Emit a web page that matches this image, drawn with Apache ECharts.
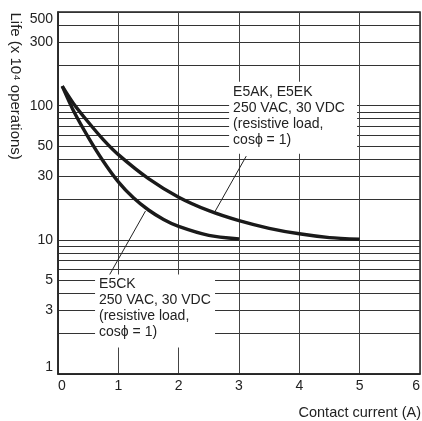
<!DOCTYPE html>
<html><head><meta charset="utf-8">
<script src="https://cdn.jsdelivr.net/npm/echarts@6/dist/echarts.min.js"></script>
<style>html,body{margin:0;padding:0;background:#fff}#c{width:422px;height:421px}</style>
</head><body><div id="c"></div>
<script>
// Data
const currentAK = [0.07, 0.25, 0.5, 0.75, 1, 1.5, 2, 2.5, 3, 3.5, 4, 4.5, 5];
const lifeAK    = [140, 105, 75.6, 55.9, 43.2, 28.6, 20.8, 16.5, 13.9, 12.2, 11.1, 10.4, 10.1];
const currentCK = [0.07, 0.25, 0.5, 0.75, 1, 1.25, 1.5, 1.75, 2, 2.5, 3];
const lifeCK    = [140, 93, 58.4, 38.6, 27.1, 20.6, 16.7, 14.2, 12.6, 10.8, 10.15];
const yLabelValues = [1, 3, 5, 10, 30, 50, 100, 300, 500];
const yGridValues = [1, 2, 3, 4, 5, 6, 7, 8, 9, 10, 20, 30, 40, 50, 60, 70, 80, 90, 100, 200, 300, 400, 500];
const xTickLabels = [0, 1, 2, 3, 4, 5, 6];
const labelAK = ['E5AK, E5EK', '250 VAC, 30 VDC', '(resistive load,', 'cos\u03d5 = 1)'];
const labelCK = ['E5CK', '250 VAC, 30 VDC', '(resistive load,', 'cos\u03d5 = 1)'];
const arrowAK = [[3.12, 42.1], [2.60, 16.2]];
const arrowCK = [[0.846, 5.41], [1.45, 16.4]];

const FONT = '"Liberation Sans", Arial, Helvetica, sans-serif';
const INK = '#222';

const chart = echarts.init(document.getElementById('c'), null, {renderer: 'canvas'});
const zip = (xs, ys) => xs.map((x, i) => [x, ys[i]]);

const option = {
  animation: false,
  backgroundColor: '#fff',
  textStyle: {fontFamily: FONT},
  grid: {left: 58, right: 2, top: 12, bottom: 47, show: true, borderColor: INK, borderWidth: 1.5,
         containLabel: false, outerBoundsMode: 'none'},
  xAxis: {
    type: 'value', min: 0, max: 6, interval: 1,
    axisLine: {show: true, lineStyle: {color: INK, width: 1.5}},
    axisTick: {show: false},
    axisLabel: {color: INK, fontSize: 14, fontFamily: FONT, margin: 5,
                alignMinLabel: 'left', alignMaxLabel: 'right',
                formatter: v => String(xTickLabels[Math.round(v)])},
    splitLine: {show: true, lineStyle: {color: '#444', width: 1}}
  },
  yAxis: {
    type: 'log', logBase: 10, min: 1, max: 500,
    axisLine: {show: true, lineStyle: {color: INK, width: 1.5}},
    axisTick: {show: false, customValues: yGridValues},
    axisLabel: {color: INK, fontSize: 14, fontFamily: FONT, margin: 5, customValues: yLabelValues,
                verticalAlignMinLabel: 'bottom', verticalAlignMaxLabel: 'top'},
    splitLine: {show: true, lineStyle: {color: '#333', width: 1}}
  },
  series: [
    {
      name: 'E5AK, E5EK', type: 'line', data: zip(currentAK, lifeAK), smooth: 0.25,
      symbol: 'none', lineStyle: {color: '#1a1a1a', width: 3.4}, z: 5,
      markLine: {
        silent: true, symbol: ['none', 'arrow'], symbolSize: [0, 8], animation: false,
        label: {show: false},
        lineStyle: {color: INK, width: 1, type: 'solid'},
        data: [
          [{coord: arrowAK[0]}, {coord: arrowAK[1]}],
          [{coord: arrowCK[0]}, {coord: arrowCK[1]}]
        ]
      }
    },
    {
      name: 'E5CK', type: 'line', data: zip(currentCK, lifeCK), smooth: 0.25,
      symbol: 'none', lineStyle: {color: '#1a1a1a', width: 3.4}, z: 5
    }
  ]
};
chart.setOption(option);

function box(anchor, lines, w, h) {
  const p = chart.convertToPixel({gridIndex: 0}, anchor);
  return {
    type: 'group', x: p[0], y: p[1], z: 50,
    children: [
      {type: 'rect', shape: {x: 0, y: 0, width: w, height: h}, style: {fill: '#fff'}, z: 50},
      {type: 'text', x: 4, y: 2, z: 51,
       style: {text: lines.join('\n'), font: '14px ' + FONT, fill: INK, lineHeight: 16,
               textAlign: 'left', textVerticalAlign: 'top'}}
    ]
  };
}

chart.setOption({
  graphic: [
    box([2.836, 150.7], labelAK, 128, 72),
    box([0.614, 5.51], labelCK, 120, 73),
    {type: 'text', x: 15.5, y: 12.5, rotation: -Math.PI / 2, z: 50,
     style: {text: 'Life (x 10\u2074 operations)', font: '15px ' + FONT, fill: INK,
             textAlign: 'left', textVerticalAlign: 'middle'}},
    {type: 'text', x: 421, y: 412.7, z: 50,
     style: {text: 'Contact current (A)', font: '14.5px ' + FONT, fill: INK,
             textAlign: 'right', textVerticalAlign: 'middle'}}
  ]
});
</script>
</body></html>
